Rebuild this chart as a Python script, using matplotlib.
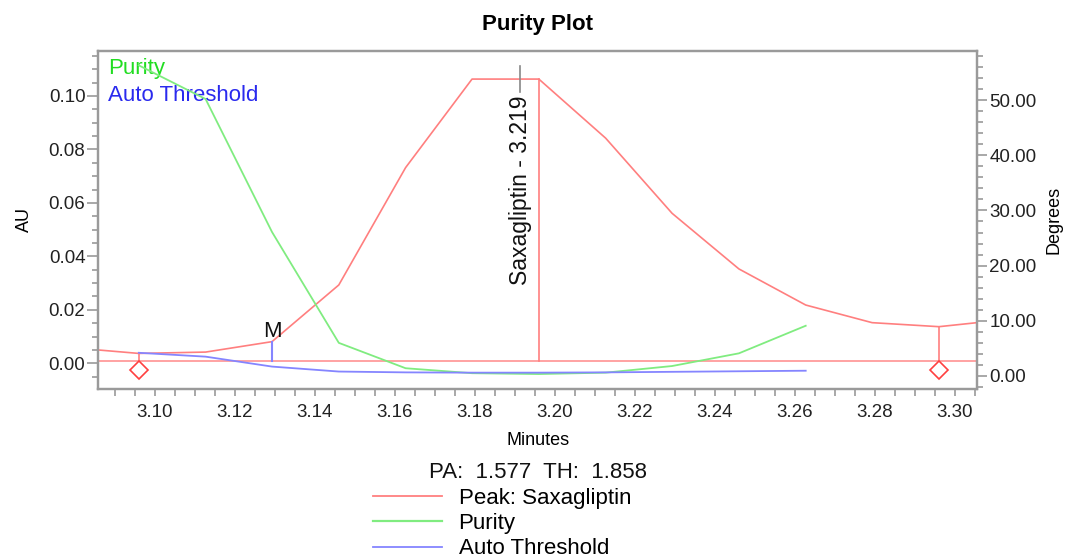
import numpy as np
import matplotlib
matplotlib.use("Agg")
import matplotlib.pyplot as plt
from matplotlib.lines import Line2D
from matplotlib.ticker import MultipleLocator, FormatStrFormatter

plt.rcParams["font.family"] = ["Liberation Sans", "DejaVu Sans"]

# Peak trace (AU)
peak_time = [3.0858, 3.0960, 3.1127, 3.1293, 3.1460, 3.1627, 3.1793, 3.1960,
             3.2127, 3.2293, 3.2460, 3.2627, 3.2793, 3.2960, 3.3055]
peak_au = [0.0050, 0.0037, 0.0042, 0.0081, 0.0293, 0.0732, 0.1063, 0.1063,
           0.0842, 0.0561, 0.0353, 0.0218, 0.0152, 0.0137, 0.0152]

# Purity angle and auto threshold angle (Degrees)
angle_time = [3.0960, 3.1127, 3.1293, 3.1460, 3.1627, 3.1793, 3.1960,
              3.2127, 3.2293, 3.2460, 3.2627]
purity_deg = [56.3, 50.2, 26.1, 6.0, 1.4, 0.5, 0.35, 0.6, 1.8, 4.1, 9.1]
threshold_deg = [4.2, 3.5, 1.7, 0.8, 0.65, 0.6, 0.6, 0.65, 0.75, 0.85, 0.95]

baseline_au = 0.0007
peak_start = 3.0960
peak_end = 3.2960
apex_time = 3.1960
apex_au = 0.1063
marker_m_time = 3.1293
marker_m_au = 0.0081
peak_name = "Saxagliptin"
peak_rt = 3.219
purity_angle = 1.577
threshold_angle = 1.858

RED = "#ff7f7f"
GREEN = "#80ec80"
BLUE = "#8585ff"
SPINE = "#9a9a9a"


def style_axis(ax):
    for sp in ax.spines.values():
        sp.set_color(SPINE)
        sp.set_linewidth(1.6)
    ax.tick_params(which="both", colors=SPINE, labelcolor="#222222", width=1.2, labelsize=13.5)


def main():
    fig = plt.figure(figsize=(10.67, 5.58), dpi=100)
    ax = fig.add_axes([0.0918, 0.3029, 0.8238, 0.6057])
    ax2 = ax.twinx()

    # chromatogram on the AU scale
    ax.plot(peak_time, peak_au, color=RED, lw=1.2, zorder=3)
    ax.axhline(baseline_au, color=RED, lw=1.2, alpha=0.85, zorder=2)
    ax.plot([apex_time, apex_time], [baseline_au, apex_au], color=RED, lw=1.2, zorder=3)

    # integration start / end markers
    for t in (peak_start, peak_end):
        y = np.interp(t, peak_time, peak_au)
        ax.plot([t, t], [y, -0.0025], color=RED, lw=1.2, zorder=3)
        ax.plot(t, -0.0025, marker="D", ms=9, mfc="white", mec="#ff4040", mew=1.2, zorder=4)

    # M marker
    ax.plot([marker_m_time, marker_m_time], [baseline_au, marker_m_au], color=BLUE, lw=1.5, zorder=3)
    ax.text(marker_m_time, 0.0098, "M", ha="center", va="baseline", fontsize=16, color="#111111")

    # peak label
    ax.plot([3.1913, 3.1913], [0.1015, 0.1112], color="#888888", lw=1.2, zorder=3)
    ax.text(3.1913, 0.0293, f"{peak_name} - {peak_rt:.3f}", rotation=90, ha="center",
            va="bottom", fontsize=16.5, color="#111111", zorder=5)

    # purity / threshold on the Degrees scale
    ax2.plot(angle_time, purity_deg, color=GREEN, lw=1.3, zorder=3)
    ax2.plot(angle_time, threshold_deg, color=BLUE, lw=1.3, zorder=3)

    ax.set_xlim(3.0858, 3.3055)
    ax.set_ylim(-0.0096, 0.1168)
    ax2.set_ylim(-2.36, 58.9)

    ax.xaxis.set_major_locator(MultipleLocator(0.02))
    ax.xaxis.set_minor_locator(MultipleLocator(0.005))
    ax.xaxis.set_major_formatter(FormatStrFormatter("%.2f"))
    ax.yaxis.set_major_locator(MultipleLocator(0.02))
    ax.yaxis.set_minor_locator(MultipleLocator(0.005))
    ax.yaxis.set_major_formatter(FormatStrFormatter("%.2f"))
    ax2.yaxis.set_major_locator(MultipleLocator(10))
    ax2.yaxis.set_minor_locator(MultipleLocator(2))
    ax2.yaxis.set_major_formatter(FormatStrFormatter("%.2f"))

    style_axis(ax)
    style_axis(ax2)
    ax.tick_params(axis="y", which="major", length=8, pad=1)
    ax.tick_params(axis="y", which="minor", length=4)
    ax.tick_params(axis="x", which="both", length=5, pad=6)
    ax2.tick_params(axis="y", which="major", length=7, pad=2)
    ax2.tick_params(axis="y", which="minor", length=4)

    ax.set_xlabel("Minutes", fontsize=13)
    ax.xaxis.set_label_coords(0.5006, -0.127)
    ax.set_ylabel("AU", fontsize=13)
    ax.yaxis.set_label_coords(-0.074, 0.5)
    ax2.set_ylabel("Degrees", fontsize=13)
    ax2.yaxis.set_label_coords(1.0785, 0.5)
    ax.set_title("Purity Plot", fontsize=16, fontweight="bold", pad=15)

    # in-plot key
    ax.text(0.0114, 0.9497, "Purity", transform=ax.transAxes, fontsize=16,
            color="#22dd22", va="center", ha="left")
    ax.text(0.0114, 0.8698, "Auto Threshold", transform=ax.transAxes, fontsize=16,
            color="#2a2aee", va="center", ha="left")

    fig.text(0.504, 1 - 472 / 558, f"PA:  {purity_angle:.3f}  TH:  {threshold_angle:.3f}",
             ha="center", va="center", fontsize=16, color="#111111")

    handles = [Line2D([], [], color=RED, lw=1.3),
               Line2D([], [], color=GREEN, lw=1.6),
               Line2D([], [], color=BLUE, lw=1.3)]
    fig.legend(handles, ["Peak: " + peak_name, "Purity", "Auto Threshold"],
               loc="upper left", bbox_to_anchor=(373 / 1067, 1 - 488 / 558),
               frameon=False, fontsize=16, handlelength=3.1, handletextpad=0.75,
               labelspacing=0.19, borderpad=0, borderaxespad=0)

    fig.savefig("out.png", dpi=100, facecolor="white")


if __name__ == '__main__':
    main()
